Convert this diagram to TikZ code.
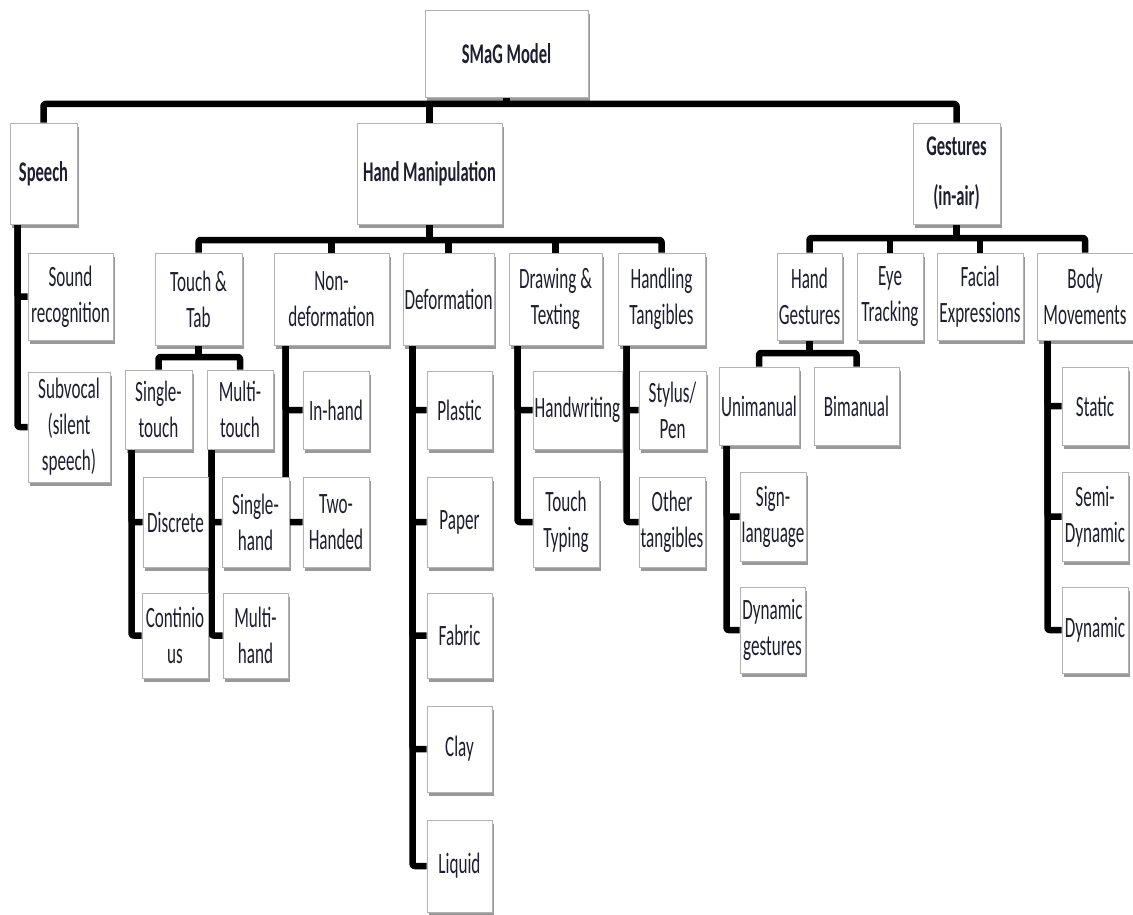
\documentclass[tikz,border=0pt]{standalone}
\usepackage{fontspec}
\setmainfont{Carlito}[FakeStretch=0.58]
\usetikzlibrary{shadows,backgrounds}
\definecolor{txt}{HTML}{1E1E32}
\tikzset{
  box/.style={draw=gray!60, line width=0.9pt, fill=white, align=center, inner sep=0pt,
    text=txt, font=\fontsize{29.5}{36}\selectfont,
    drop shadow={shadow xshift=1.5pt, shadow yshift=-4pt, opacity=0.4, fill=black}},
  bbox/.style={box, font=\bfseries\fontsize{28.5}{50}\selectfont},
  conn/.style={draw=black, line width=6.5pt, line join=round, rounded corners=2pt},
}
% \bx[style]{name}{x1}{y1}{x2}{y2}{text}
\newcommand\bx[7][box]{\node[#1, minimum width={(#5-#3)*1pt}, minimum height={(#6-#4)*1pt}]
  (#2) at ({(#3+#5)/2},{(#4+#6)/2}) {#7};}
\begin{document}
\begin{tikzpicture}[x=1pt,y=-1pt]
\useasboundingbox (0,0) rectangle (1133,915);
% level coordinates
\coordinate (yA) at (0,104);
\coordinate (yB) at (0,240);
\coordinate (yC) at (0,357);
\coordinate (yD) at (0,238);
\coordinate (yE) at (0,353);

% ---- boxes ----
\bx[bbox]{smag}{425}{10}{588}{97}{SMaG Model}
\bx[bbox]{speech}{10}{123}{77}{224}{Speech}
\bx[bbox]{hm}{357}{123}{502}{224}{Hand Manipulation}
\bx[bbox]{gest}{913}{123}{1000}{224}{Gestures\\(in-air)}
\bx{sound}{28}{253}{113}{340}{Sound\\recognition}
\bx{subv}{28}{372}{110}{482}{Subvocal\\(silent\\speech)}
\bx{tt}{155}{253}{242}{345}{Touch \&\\Tab}
\bx{nd}{274}{253}{389}{345}{Non-\\deformation}
\bx{def}{403}{253}{494}{345}{Deformation}
\bx{dt}{509}{253}{602}{345}{Drawing \&\\Texting}
\bx{ht}{618}{253}{705}{345}{Handling\\Tangibles}
\bx{st}{125}{370}{192}{449}{Single-\\touch}
\bx{mt}{207}{370}{273}{449}{Multi-\\touch}
\bx{disc}{143}{477}{208}{567}{Discrete}
\bx{cont}{142}{593}{208}{678}{Continio\\us}
\bx{sh}{222}{477}{289}{567}{Single-\\hand}
\bx{mh}{223}{593}{288}{678}{Multi-\\hand}
\bx{inh}{303}{371}{369}{449}{In-hand}
\bx{twoh}{303}{477}{369}{567}{Two-\\Handed}
\bx{plast}{427}{371}{492}{449}{Plastic}
\bx{paper}{427}{477}{492}{567}{Paper}
\bx{fabric}{427}{593}{492}{678}{Fabric}
\bx{clay}{427}{706}{492}{792}{Clay}
\bx{liquid}{427}{820}{492}{912}{Liquid}
\bx{hw}{533}{371}{622}{449}{Handwriting}
\bx{typ}{533}{477}{599}{567}{Touch\\Typing}
\bx{sty}{639}{371}{706}{449}{Stylus/\\Pen}
\bx{oth}{639}{477}{705}{567}{Other\\tangibles}
\bx{hg}{777}{253}{842}{340}{Hand\\Gestures}
\bx{eye}{857}{253}{923}{340}{Eye\\Tracking}
\bx{face}{937}{253}{1023}{340}{Facial\\Expressions}
\bx{body}{1037}{253}{1133}{340}{Body\\Movements}
\bx{uni}{719}{367}{799}{445}{Unimanual}
\bx{bi}{814}{367}{899}{445}{Bimanual}
\bx{sign}{740}{472}{806}{561}{Sign-\\language}
\bx{dyng}{740}{587}{805}{673}{Dynamic\\gestures}
\bx{stat}{1062}{367}{1128}{445}{Static}
\bx{semi}{1062}{472}{1128}{561}{Semi-\\Dynamic}
\bx{dyn}{1062}{587}{1128}{673}{Dynamic}

% ---- connectors (behind the boxes) ----
\begin{scope}[on background layer]
% top level
\draw[conn] (smag.south) -- (smag.south |- yA);
\draw[conn] (speech.north) |- (smag.south |- yA) -| (gest.north);
\draw[conn] (hm.north) -- (hm.north |- yA);
% speech
\draw[conn] ([xshift=8pt]speech.south west) |- (sound.west);
\draw[conn] ([xshift=8pt]speech.south west) |- (subv.west);
% hand manipulation bar
\draw[conn] (hm.south) -- (hm.south |- yB);
\draw[conn] (tt.north) |- (hm.south |- yB) -| (ht.north);
\draw[conn] (nd.north) -- (nd.north |- yB);
\draw[conn] (def.north) -- (def.north |- yB);
\draw[conn] (dt.north) -- (dt.north |- yB);
% touch & tab
\draw[conn] (tt.south) -- (tt.south |- yC);
\draw[conn] (st.north) |- (tt.south |- yC) -| (mt.north);
\draw[conn] ([xshift=7pt]st.south west) |- (disc.west);
\draw[conn] ([xshift=7pt]st.south west) |- (cont.west);
\draw[conn] ([xshift=5pt]mt.south west) |- (sh.west);
\draw[conn] ([xshift=5pt]mt.south west) |- (mh.west);
% non-deformation
\draw[conn] ([xshift=12pt]nd.south west) |- (inh.west);
\draw[conn] ([xshift=12pt]nd.south west) |- (twoh.west);
% deformation
\foreach \c in {plast,paper,fabric,clay,liquid}
  \draw[conn] ([xshift=10pt]def.south west) |- (\c.west);
% drawing & texting
\draw[conn] ([xshift=9pt]dt.south west) |- (hw.west);
\draw[conn] ([xshift=9pt]dt.south west) |- (typ.west);
% handling tangibles
\draw[conn] ([xshift=9pt]ht.south west) |- (sty.west);
\draw[conn] ([xshift=9pt]ht.south west) |- (oth.west);
% gestures
\draw[conn] (gest.south) -- (gest.south |- yD);
\draw[conn] (hg.north) |- (gest.south |- yD) -| (body.north);
\draw[conn] (eye.north) -- (eye.north |- yD);
\draw[conn] (face.north) -- (face.north |- yD);
% hand gestures
\draw[conn] (hg.south) -- (hg.south |- yE);
\draw[conn] (uni.north) |- (hg.south |- yE) -| (bi.north);
\draw[conn] ([xshift=8pt]uni.south west) |- (sign.west);
\draw[conn] ([xshift=8pt]uni.south west) |- (dyng.west);
% body movements
\foreach \c in {stat,semi,dyn}
  \draw[conn] ([xshift=11pt]body.south west) |- (\c.west);
\end{scope}
\end{tikzpicture}
\end{document}
